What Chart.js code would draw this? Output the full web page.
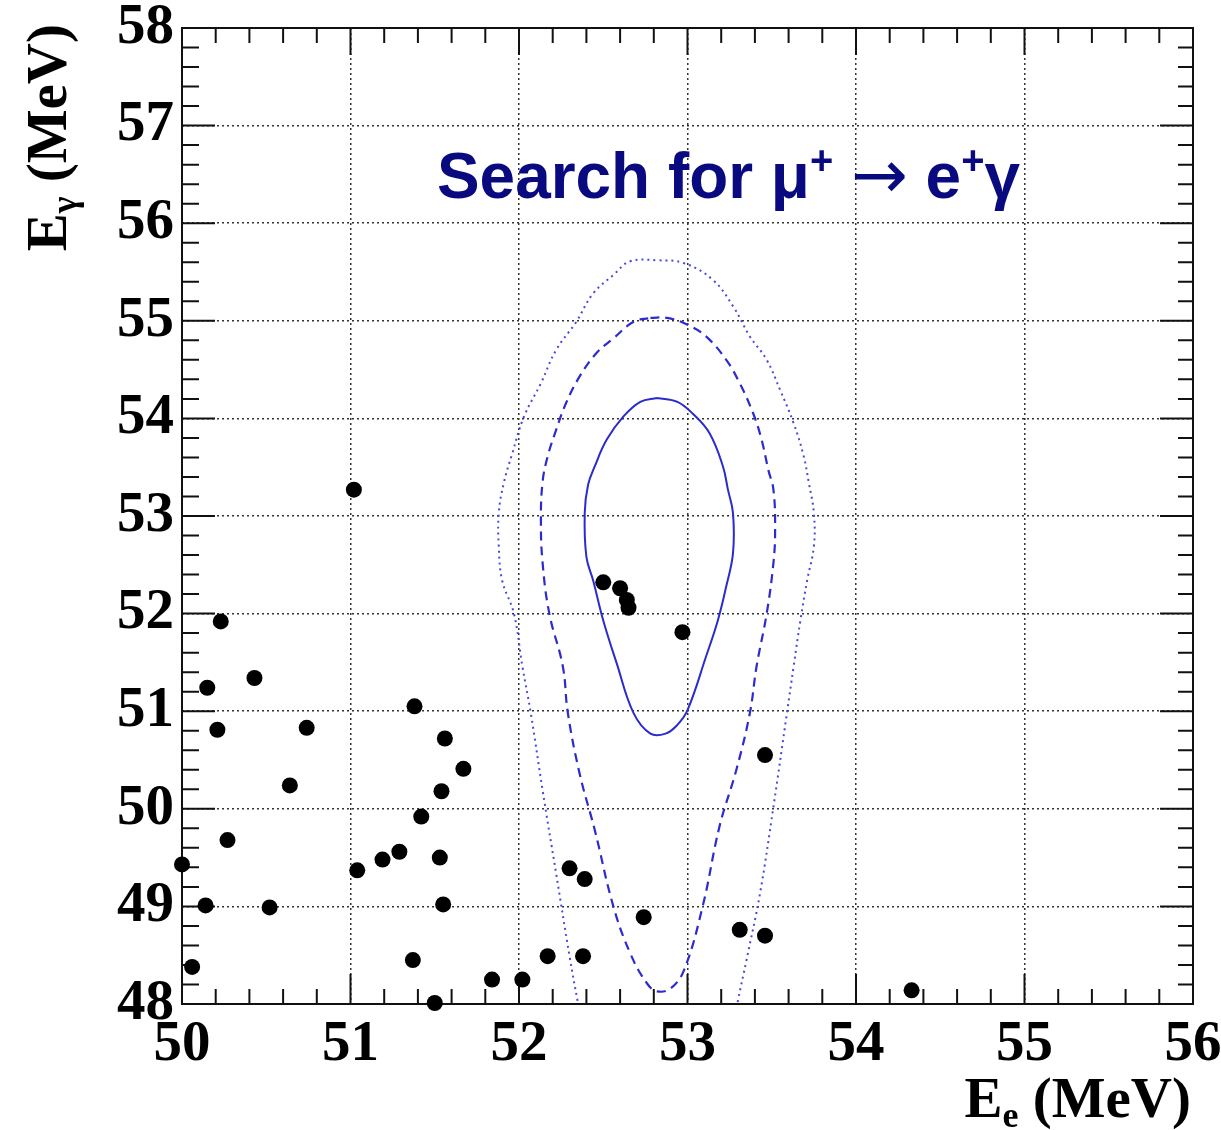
<!DOCTYPE html>
<html>
<head>
<meta charset="utf-8">
<script src="https://cdn.jsdelivr.net/npm/chart.js@4.4.0/dist/chart.umd.min.js"></script>
<style>
  body { margin: 0; background: #fff; }
  #wrap { width: 1221px; height: 1130px; position: relative; }
</style>
</head>
<body>
<div id="wrap"><canvas id="myChart"></canvas></div>
<script>
// candidate events: E_e and E_gamma (MeV)
const eElectron = [51.02, 50.23, 50.15, 50.43, 50.21, 50.74, 51.38, 51.56, 51.67, 50.64,
                   51.54, 51.42, 50.27, 50.00, 51.04, 51.19, 51.29, 51.53, 50.14, 50.52,
                   51.55, 50.06, 51.37, 51.50, 51.84, 52.02, 52.17, 52.38, 52.30, 52.39,
                   52.74, 52.50, 52.60, 52.64, 52.65, 52.97, 53.46, 53.31, 53.46, 54.33];
const eGamma    = [53.27, 51.92, 51.24, 51.34, 50.81, 50.83, 51.05, 50.72, 50.41, 50.24,
                   50.18, 49.92, 49.68, 49.43, 49.37, 49.48, 49.56, 49.50, 49.01, 48.99,
                   49.02, 48.38, 48.45, 48.01, 48.25, 48.25, 48.49, 48.49, 49.39, 49.28,
                   48.89, 52.32, 52.26, 52.14, 52.06, 51.81, 50.55, 48.76, 48.70, 48.14];

// signal PDF contours
const solidE = [52.82, 52.94, 53.03, 53.13, 53.21, 53.24, 53.27, 53.27, 53.23, 53.18, 53.11,
                53.00, 52.94, 52.87, 52.78, 52.68, 52.58, 52.50, 52.44, 52.40, 52.39, 52.41,
                52.45, 52.52, 52.62, 52.72, 52.82];
const solidG = [54.21, 54.17, 54.05, 53.85, 53.51, 53.27, 53.03, 52.62, 52.28, 51.93, 51.56,
                51.01, 50.86, 50.77, 50.77, 50.98, 51.49, 51.93, 52.34, 52.58, 53.03, 53.32,
                53.51, 53.78, 54.02, 54.17, 54.21];

const dashedE = [52.78, 52.88, 53.00, 53.11, 53.23, 53.31, 53.39, 53.44, 53.48, 53.51, 53.52,
                 53.51, 53.47, 53.41, 53.37, 53.29, 53.19, 53.09, 52.98, 52.90, 52.82, 52.76,
                 52.66, 52.56, 52.45, 52.36, 52.29, 52.26, 52.18, 52.14, 52.13, 52.14, 52.17,
                 52.22, 52.28, 52.36, 52.46, 52.56, 52.68, 52.78];
const dashedG = [55.03, 55.03, 54.96, 54.84, 54.60, 54.36, 54.05, 53.78, 53.47, 53.27, 52.86,
                 52.52, 52.00, 51.46, 50.98, 50.40, 49.82, 49.00, 48.35, 48.16, 48.13, 48.21,
                 48.52, 49.00, 49.78, 50.36, 50.98, 51.46, 52.00, 52.52, 52.96, 53.35, 53.61,
                 53.88, 54.16, 54.43, 54.67, 54.82, 54.99, 55.03];

const dottedE = [52.37, 52.35, 52.30, 52.22, 52.14, 52.07, 52.02, 51.97, 51.90, 51.88, 51.88,
                 51.91, 51.96, 52.03, 52.13, 52.22, 52.34, 52.44, 52.56, 52.66, 52.82, 52.98,
                 53.15, 53.27, 53.37, 53.47, 53.55, 53.63, 53.69, 53.72, 53.75, 53.75, 53.71,
                 53.67, 53.63, 53.59, 53.51, 53.43, 53.35, 53.30, 53.28];
const dottedG = [47.85, 48.01, 48.49, 49.34, 50.19, 50.98, 51.46, 52.00, 52.34, 52.69, 53.03,
                 53.34, 53.64, 54.02, 54.36, 54.70, 54.99, 55.28, 55.47, 55.61, 55.62, 55.59,
                 55.42, 55.15, 54.84, 54.60, 54.29, 53.95, 53.61, 53.34, 53.03, 52.69, 52.34,
                 51.93, 51.46, 50.98, 50.02, 49.13, 48.45, 48.04, 47.85];

const toPoints = (xs, ys) => xs.map((x, i) => ({ x: x, y: ys[i] }));

const serif = '"Liberation Serif", "Times New Roman", serif';
const sans = '"Liberation Sans", Arial, sans-serif';

// inner ticks + frame, ROOT style
const frameTicks = {
    id: 'frameTicks',
    beforeDatasetsDraw(chart) {
        const { ctx, chartArea: a, scales: { x, y } } = chart;
        ctx.save();
        ctx.strokeStyle = '#111';
        ctx.lineWidth = 2;
        ctx.beginPath();
        const nx = Math.round((x.max - x.min) / 0.2);
        for (let i = 0; i <= nx; i++) {
            const px = x.getPixelForValue(x.min + i * 0.2);
            const major = i % 5 === 0;
            ctx.moveTo(px, a.bottom); ctx.lineTo(px, a.bottom - (major ? 30 : 15));
            ctx.moveTo(px, a.top); ctx.lineTo(px, a.top + (major ? 27 : 15));
        }
        const ny = Math.round((y.max - y.min) / 0.2);
        for (let i = 0; i <= ny; i++) {
            const py = y.getPixelForValue(y.min + i * 0.2);
            const major = i % 5 === 0;
            ctx.moveTo(a.left, py); ctx.lineTo(a.left + (major ? 33 : 17), py);
            ctx.moveTo(a.right, py); ctx.lineTo(a.right - (major ? 33 : 15), py);
        }
        ctx.stroke();
        ctx.strokeRect(a.left, a.top, a.right - a.left, a.bottom - a.top);
        ctx.restore();
    }
};

function drawPieces(ctx, pieces, x, y) {
    for (const p of pieces) {
        ctx.font = p[1];
        ctx.fillText(p[0], x, y + p[2]);
        x += ctx.measureText(p[0]).width;
    }
    return x;
}
function piecesWidth(ctx, pieces) {
    let w = 0;
    for (const p of pieces) { ctx.font = p[1]; w += ctx.measureText(p[0]).width; }
    return w;
}

// axis titles and the "Search for" label
const labels = {
    id: 'labels',
    afterDraw(chart) {
        const ctx = chart.ctx;
        ctx.save();
        ctx.textAlign = 'left';
        ctx.textBaseline = 'alphabetic';
        ctx.fillStyle = '#000';

        const big = 'bold 57px ' + serif;
        const sub = 'bold 36px ' + serif;

        // y title, rotated
        const yt = [['E', big, 0], ['γ', sub, 10], [' (MeV)', big, 0]];
        ctx.save();
        ctx.translate(66, 24 + piecesWidth(ctx, yt));
        ctx.rotate(-Math.PI / 2);
        drawPieces(ctx, yt, 0, 0);
        ctx.restore();

        // x title, right aligned
        const xt = [['E', big, 0], ['e', sub, 10], [' (MeV)', big, 0]];
        drawPieces(ctx, xt, 1191 - piecesWidth(ctx, xt), 1117);

        // title
        ctx.fillStyle = '#0a0a80';
        const tb = 'bold 64px ' + sans;
        const ts = 'bold 40px ' + sans;
        const title = [['Search for μ', tb, 0], ['+', ts, -24], [' ', tb, 0],
                       ['→', '68px "DejaVu Sans"', 0], [' e', tb, 0], ['+', ts, -24], ['γ', tb, 0]];
        const tw = piecesWidth(ctx, title);
        ctx.save();
        ctx.translate(437, 198);
        ctx.scale(583 / tw, 1);
        drawPieces(ctx, title, 0, 0);
        ctx.restore();
        ctx.restore();
    }
};

const tickFont = { family: serif, weight: 'bold', size: 57, lineHeight: 1 };

new Chart(document.getElementById('myChart'), {
    type: 'scatter',
    data: {
        datasets: [
            {
                label: 'events',
                data: toPoints(eElectron, eGamma),
                backgroundColor: '#000',
                borderColor: '#000',
                borderWidth: 0,
                pointRadius: 8,
                pointHoverRadius: 8,
                clip: false
            },
            {
                label: '1 sigma',
                data: toPoints(solidE, solidG),
                showLine: true,
                pointRadius: 0,
                borderColor: '#2b2bd0',
                borderWidth: 2,
                tension: 0.4
            },
            {
                label: '1.64 sigma',
                data: toPoints(dashedE, dashedG),
                showLine: true,
                pointRadius: 0,
                borderColor: '#2b2bd0',
                borderWidth: 2.2,
                borderDash: [9, 6],
                tension: 0.4
            },
            {
                label: '2 sigma',
                data: toPoints(dottedE, dottedG),
                showLine: true,
                pointRadius: 0,
                borderColor: '#4848e0',
                borderWidth: 2,
                borderDash: [2, 4],
                tension: 0.4
            }
        ]
    },
    options: {
        responsive: true,
        maintainAspectRatio: false,
        animation: false,
        layout: { padding: { top: 28, right: 28, left: 0, bottom: 0 } },
        plugins: {
            legend: { display: false },
            tooltip: { enabled: false }
        },
        scales: {
            x: {
                type: 'linear',
                min: 50,
                max: 56,
                ticks: { stepSize: 1, font: tickFont, color: '#000', padding: 13, maxRotation: 0, autoSkip: false },
                grid: { color: '#333', lineWidth: 1.5, drawTicks: false },
                border: { display: false, dash: [2, 3] },
                afterFit(scale) {
                    scale.height = 126;
                    scale.paddingLeft = 0;
                    scale.paddingRight = 0;
                }
            },
            y: {
                type: 'linear',
                min: 48,
                max: 58,
                ticks: { stepSize: 1, font: tickFont, color: '#000', padding: 8 },
                grid: { color: '#333', lineWidth: 1.5, drawTicks: false },
                border: { display: false, dash: [2, 3] },
                afterFit(scale) {
                    scale.width = 182;
                    scale.paddingTop = 0;
                    scale.paddingBottom = 0;
                }
            }
        }
    },
    plugins: [frameTicks, labels]
});
</script>
</body>
</html>
